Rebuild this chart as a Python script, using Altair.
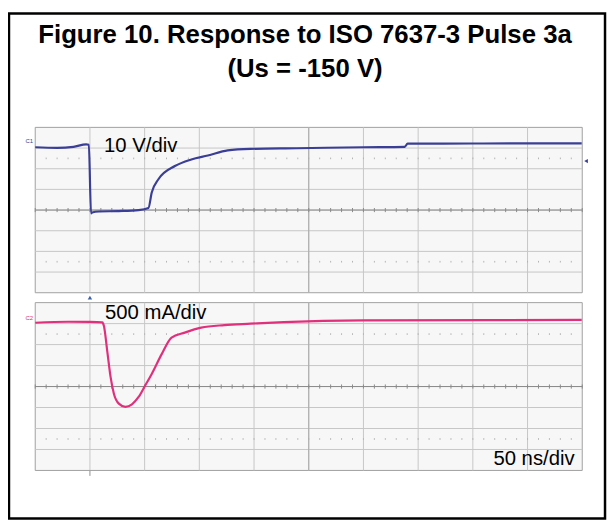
import altair as alt
import pandas as pd

# ---------------- data ----------------
title_lines = ["Figure 10. Response to ISO 7637-3 Pulse 3a", "(Us = -150 V)"]

# Channel 1 : voltage (V), time relative to trigger (ns)
c1_time_ns = [-50, -30, -15, -3.4, -1.0, 1.0, 2, 8.3, 26.4, 44.5, 53.5, 56.5, 62.6,
              77.7, 92.7, 107.8, 125.9, 146.7, 189, 250, 287.7, 290.4, 350, 449.5]
c1_volts = [0.4, 0.1, 0.6, 1.8, 1.6, -31.6, -31.2, -30.7, -30.5, -30.0, -29.0, -21.5, -15.1,
            -8.7, -5.5, -3.6, -1.1, -0.4, -0.1, 0.4, 0.6, 2.1, 2.2, 2.3]

# Channel 2 : current (mA)
c2_time_ns = [-50, -20, 0, 11.3, 12.8, 15.8, 18.9, 21.9, 26.4, 32.5, 38.4, 44.5, 50.5,
              56.5, 65.6, 74.6, 86.7, 101.7, 122.9, 146.9, 177.1, 250, 449.5]
c2_milliamps = [21, 45, 40, 28, -59, -649, -1277, -1671, -1907, -1985, -1923, -1749, -1475,
                -1199, -727, -333, -215, -97, -35, -2, 35, 76, 87]

# graticule: 10 horizontal divisions of 50 ns, 8 vertical divisions per channel
time_divs = [-50, 0, 50, 100, 150, 200, 250, 300, 350, 400, 450]
minor_time = [-50 + 10 * k for k in range(51)]
c1_divs = [10, 0, -10, -20, -30, -40, -50, -60, -70]      # 10 V/div
c2_divs = [500, 0, -500, -1000, -1500, -2000, -2500, -3000, -3500]  # 500 mA/div

c1_scale_label = "10 V/div"
c2_scale_label = "500 mA/div"
time_label = "50 ns/div"

# ---------------- styling ----------------
FONT = "Liberation Sans"
C1_COLOR = "#3a3e96"
C2_COLOR = "#e0307c"
GRID = "#c6c6c6"
CENTER = "#8a8a8a"

xs = alt.Scale(domain=[time_divs[0], time_divs[-1]], range=[27.5, 580])


def X(field):
    return alt.X(field, type="quantitative", scale=xs, axis=None)


def panel(divs, y_range, trace_t, trace_y, color, label, label_t, label_y,
          ch_name, ch_t, ch_y, extra=None):
    ys = alt.Scale(domain=[divs[-1], divs[0]], range=y_range)

    def Y(field):
        return alt.Y(field, type="quantitative", scale=ys, axis=None)

    unit = (divs[0] - divs[1])
    center = divs[4]
    top, bottom = divs[0], divs[-1]
    t0, t1 = time_divs[0], time_divs[-1]

    bg = alt.Chart(pd.DataFrame({"t0": [t0], "t1": [t1], "y0": [bottom], "y1": [top]})).mark_rect(
        fill="#f7f7f7", stroke="#a0a0a0", strokeWidth=1
    ).encode(x=X("t0"), x2="t1", y=Y("y0"), y2="y1")

    vdf = pd.DataFrame({"t": time_divs[1:-1], "y0": bottom, "y1": top})
    vgrid = alt.Chart(vdf).mark_rule(color=GRID, strokeWidth=1).encode(x=X("t"), y=Y("y0"), y2="y1")

    hdf = pd.DataFrame({"y": divs[1:-1], "t0": t0, "t1": t1})
    hgrid = alt.Chart(hdf).mark_rule(color=GRID, strokeWidth=1).encode(y=Y("y"), x=X("t0"), x2="t1")

    cdf = pd.DataFrame({"y": [center], "t0": [t0], "t1": [t1]})
    chline = alt.Chart(cdf).mark_rule(color=CENTER, strokeWidth=1).encode(y=Y("y"), x=X("t0"), x2="t1")
    cvdf = pd.DataFrame({"t": [200], "y0": [bottom], "y1": [top]})
    cvline = alt.Chart(cvdf).mark_rule(color="#a8a8a8", strokeWidth=1).encode(x=X("t"), y=Y("y0"), y2="y1")

    # minor ticks along the centre line
    tdf = pd.DataFrame({"t": minor_time, "y0": center - unit * 0.1, "y1": center + unit * 0.1})
    ticks = alt.Chart(tdf).mark_rule(color=CENTER, strokeWidth=1).encode(x=X("t"), y=Y("y0"), y2="y1")

    # dotted rows at +-2.5 div from centre
    dots_rows = []
    for yy in [center + 2.5 * unit, center - 2.5 * unit]:
        for tt in minor_time[1:-1]:
            dots_rows.append({"t": tt, "y0": yy - unit * 0.04, "y1": yy + unit * 0.04})
    dots = alt.Chart(pd.DataFrame(dots_rows)).mark_rule(color="#b4b4b4", strokeWidth=1).encode(
        x=X("t"), y=Y("y0"), y2="y1")

    trace = alt.Chart(pd.DataFrame({"t": trace_t, "y": trace_y})).mark_line(
        color=color, strokeWidth=2.2, interpolate="monotone"
    ).encode(x=X("t"), y=Y("y"), order="t:Q")

    lab = alt.Chart(pd.DataFrame({"t": [label_t], "y": [label_y], "s": [label]})).mark_text(
        font=FONT, fontSize=20.5, align="left", baseline="alphabetic", color="black"
    ).encode(x=X("t"), y=Y("y"), text="s:N")

    ch = alt.Chart(pd.DataFrame({"t": [ch_t], "y": [ch_y], "s": [ch_name]})).mark_text(
        font=FONT, fontSize=6, align="center", baseline="middle", color=color
    ).encode(x=X("t"), y=Y("y"), text="s:N")

    layers = [bg, vgrid, hgrid, dots, cvline, chline, ticks, trace, lab, ch]
    if extra:
        layers += [e(X, Y) for e in extra]
    return alt.layer(*layers)


def top_extras():
    def trig_level(X, Y):
        return alt.Chart(pd.DataFrame({"t": [453.5], "y": [-6.3]})).mark_point(
            shape="triangle-left", size=18, filled=True, color=C1_COLOR, opacity=1
        ).encode(x=X("t"), y=Y("y"))
    return [trig_level]


def bottom_extras():
    def trig_pos(X, Y):
        return alt.Chart(pd.DataFrame({"t": [0], "y": [620]})).mark_point(
            shape="triangle-up", size=20, filled=True, color="#3d5fa8", opacity=1
        ).encode(x=X("t"), y=Y("y"))

    def trig_tick(X, Y):
        return alt.Chart(pd.DataFrame({"t": [0], "y0": [-3500], "y1": [-3630]})).mark_rule(
            color="#909090", strokeWidth=1
        ).encode(x=X("t"), y=Y("y0"), y2="y1")

    def tlabel(X, Y):
        return alt.Chart(pd.DataFrame({"t": [443], "y": [-3365], "s": [time_label]})).mark_text(
            font=FONT, fontSize=20.5, align="right", baseline="alphabetic", color="black"
        ).encode(x=X("t"), y=Y("y"), text="s:N")
    return [trig_pos, trig_tick, tlabel]


top_panel = panel(c1_divs, [285, 118], c1_time_ns, c1_volts, C1_COLOR,
                  c1_scale_label, 12.9, -2.0, "C1", -55.5, 3.3, top_extras())
bottom_panel = panel(c2_divs, [464.5, 295], c2_time_ns, c2_milliamps, C2_COLOR,
                     c2_scale_label, 13.8, 100, "C2", -55.5, 135, bottom_extras())

one = pd.DataFrame({"a": [0]})
frame = alt.Chart(one).mark_rect(fillOpacity=0, stroke="black", strokeWidth=2.5).encode(
    x=alt.value(1), x2=alt.value(603), y=alt.value(3), y2=alt.value(513))
title1 = alt.Chart(one).mark_text(font=FONT, fontSize=26, fontWeight="bold", align="center",
                                  baseline="alphabetic", color="black").encode(
    x=alt.value(300), y=alt.value(33), text=alt.value(title_lines[0]))
title2 = alt.Chart(one).mark_text(font=FONT, fontSize=26, fontWeight="bold", align="center",
                                  baseline="alphabetic", color="black").encode(
    x=alt.value(300), y=alt.value(67), text=alt.value(title_lines[1]))

chart = alt.layer(frame, title1, title2, top_panel, bottom_panel).resolve_scale(
    y="independent"
).properties(
    width=605, height=515, autosize=alt.AutoSizeParams(type="none"), padding=0, background="white"
).configure_view(stroke=None)

chart.save("out.html", embed_options={"renderer": "svg", "actions": False})
